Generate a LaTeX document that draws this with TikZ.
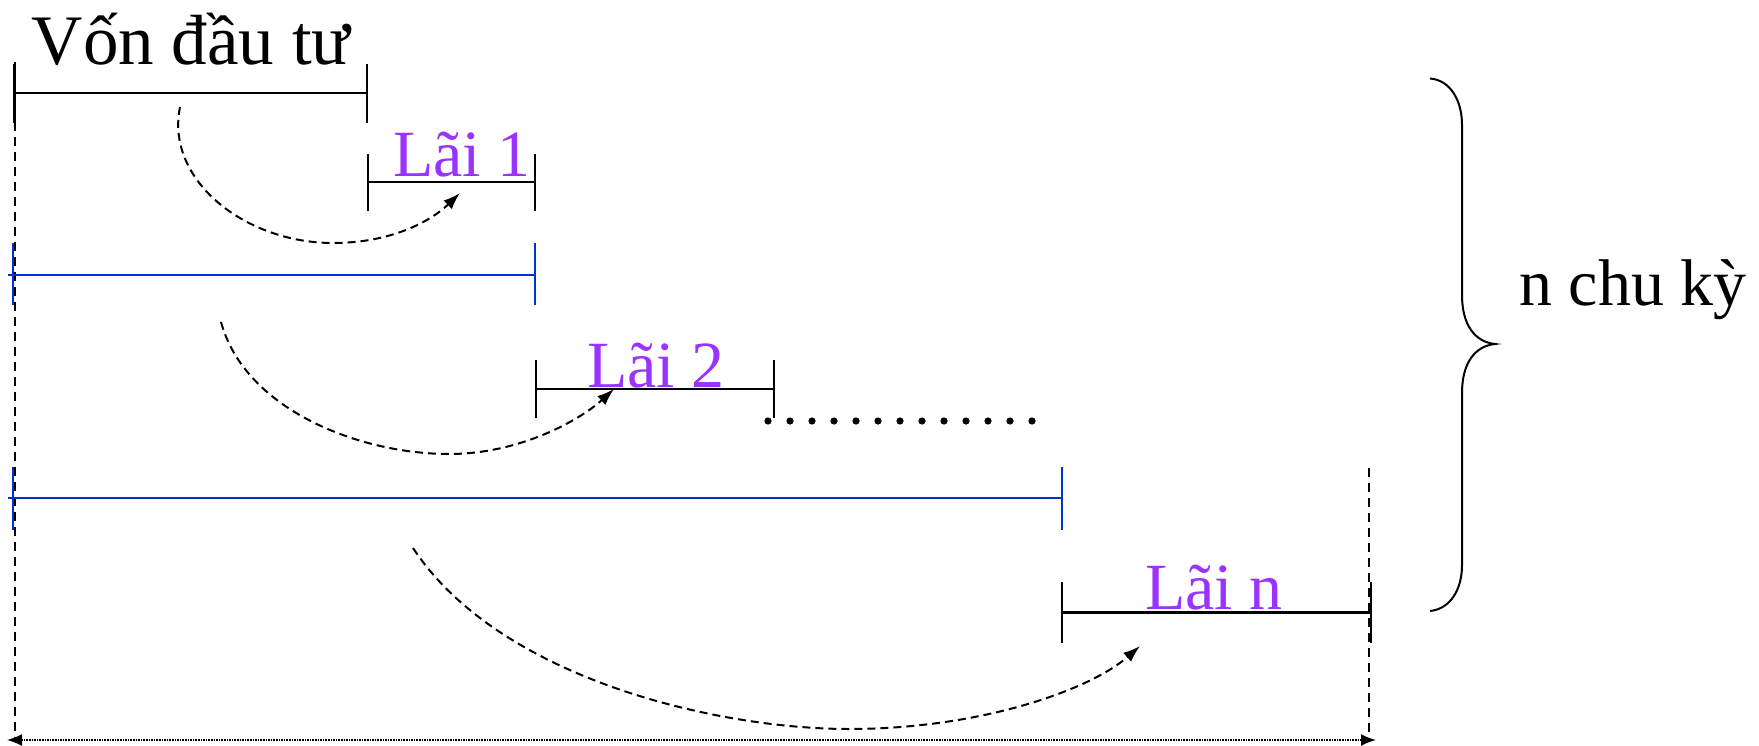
\documentclass[tikz,border=0pt]{standalone}
\usepackage{fontspec}
\setmainfont{Liberation Serif}
\usetikzlibrary{arrows.meta}
\definecolor{laicol}{RGB}{153,51,255}
\definecolor{bluecol}{RGB}{0,51,204}
\tikzset{
  seg/.style={line width=2.5pt, black},
  bseg/.style={line width=2pt, bluecol},
  guide/.style={line width=2pt, dash pattern=on 9pt off 6pt},
  flow/.style={line width=2pt, dash pattern=on 8pt off 5pt, -{Latex[length=17pt,width=12pt]}},
  span/.style={line width=1.6pt, densely dotted, {Latex[length=15pt,width=12pt]}-{Latex[length=15pt,width=12pt]}},
  lbl/.style={font=\fontsize{66}{70}\selectfont, inner sep=0pt, anchor=base},
  biglbl/.style={lbl, font=\fontsize{71}{75}\selectfont},
  lai/.style={lbl, text=laicol},
  brace/.style={line width=2pt}
}
\begin{document}
\begin{tikzpicture}[x=1pt,y=-1pt]
\useasboundingbox (0,0) rectangle (1759,746);
% guides
\coordinate (gLt) at (14.6,62);
\coordinate (gLb) at (14.6,740);
\coordinate (gRt) at (1369,468);
\coordinate (gRb) at (1369,740);
\draw[guide] (gLt) -- (gLb);
\draw[guide] (gRt) -- (gRb);
% Von dau tu
\coordinate (v0) at (14.6,93);
\coordinate (v1) at (367,93);
\draw[seg] (v0) -- (v1);
\draw[seg] (14.6,64) -- (14.6,123);
\draw[seg] (367,64) -- (367,123);
\node[biglbl] (von) at (191,65) {Vốn đầu tư};
% Lai 1
\coordinate (a0) at (368,182);
\coordinate (a1) at (535,182);
\draw[seg] (a0) -- (a1);
\draw[seg] (368,154) -- (368,211);
\draw[seg] (535,154) -- (535,211);
\node[lai] (lai1) at (462,177) {Lãi 1};
% blue 1
\coordinate (b0) at (8,275);
\coordinate (b1) at (535,275);
\draw[bseg] (b0) -- (b1);
\draw[bseg] (12.5,243) -- (12.5,305);
\draw[bseg] (535,243) -- (535,305);
% Lai 2
\coordinate (c0) at (536,389);
\coordinate (c1) at (774,389);
\draw[seg] (c0) -- (c1);
\draw[seg] (536,360) -- (536,418);
\draw[seg] (774,360) -- (774,418);
\node[lai] (lai2) at (656,387) {Lãi 2};
% dots
\foreach \i in {0,...,12} \fill (768+22*\i,421) circle (3.6pt);
% blue 2
\coordinate (d0) at (8,498);
\coordinate (d1) at (1062,498);
\draw[bseg] (d0) -- (d1);
\draw[bseg] (12.5,467) -- (12.5,530);
\draw[bseg] (1062,467) -- (1062,530);
% Lai n
\coordinate (e0) at (1062,612.5);
\coordinate (e1) at (1371,612.5);
\draw[seg] (e0) -- (e1);
\draw[seg] (1062,582) -- (1062,643);
\draw[seg] (1371,582) -- (1371,643);
\node[lai] (lain) at (1214,609) {Lãi n};
% flows
\coordinate (f1s) at (180,107);
\coordinate (f1m) at (333,243);
\coordinate (f1e) at (460,193);
\draw[flow] (f1s) .. controls (165,180) and (245,243) .. (f1m) .. controls (390,243) and (430,222) .. (f1e);
\coordinate (f2s) at (221,322);
\coordinate (f2m) at (449,454);
\coordinate (f2e) at (614,389);
\draw[flow] (f2s) .. controls (245,410) and (360,454) .. (f2m) .. controls (520,454) and (580,420) .. (f2e);
\coordinate (f3s) at (413,548);
\coordinate (f3m) at (849,729);
\coordinate (f3e) at (1140,646);
\draw[flow] (f3s) .. controls (500,680) and (720,729) .. (f3m) .. controls (980,729) and (1090,690) .. (f3e);
% span arrow
\coordinate (s0) at (7,740);
\coordinate (s1) at (1376,740);
\draw[span] (s0) -- (s1);
% brace
\coordinate (brT) at (1430,78.5);
\coordinate (brM) at (1495,344);
\coordinate (brB) at (1430,611);
\draw[brace] (brT) .. controls (1450,80) and (1462,100) .. (1462,125)
  -- (1462,295) .. controls (1462,325) and (1475,342) .. (brM)
  .. controls (1475,346) and (1462,363) .. (1462,393)
  -- (1462,565) .. controls (1462,590) and (1450,609) .. (brB);
\node[lbl] (nck) at (1633,305) {n chu kỳ};
\end{tikzpicture}
\end{document}
